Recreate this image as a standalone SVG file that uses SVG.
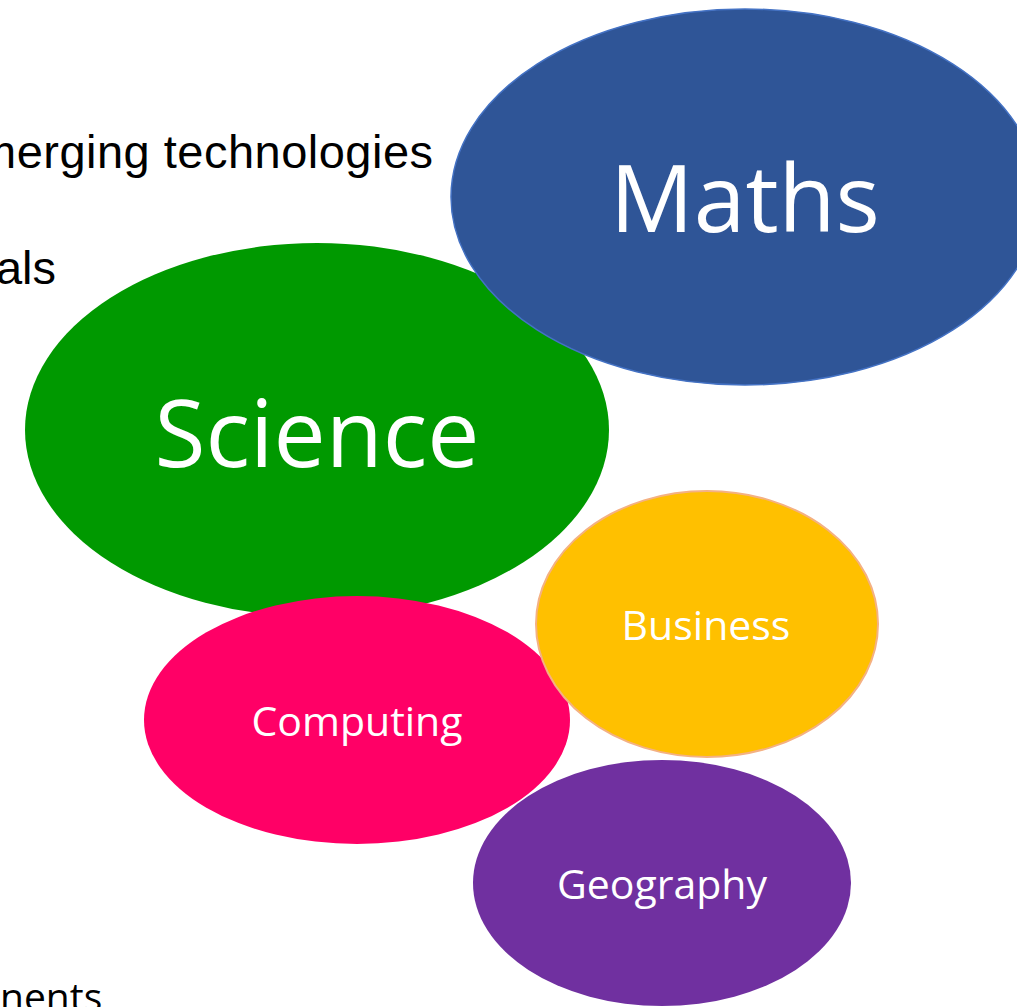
<svg xmlns="http://www.w3.org/2000/svg" width="1017" height="1007" viewBox="0 0 1017 1007">
<style>
.lbl{font-family:"Open Sans","Noto Sans",sans-serif;fill:#ffffff;text-anchor:middle}
.big{font-size:93px}
.small{font-size:41px}
.bg{font-family:"Liberation Sans",Arial,sans-serif;font-size:47px;fill:#000000}
</style>
<rect width="1017" height="1007" fill="#ffffff"/>
<g id="background-text">
<text class="bg" x="433" y="168" text-anchor="end" textLength="456" lengthAdjust="spacing">merging technologies</text>
<text class="bg" x="56" y="284" text-anchor="end">als</text>
<text x="0" y="1011" style="font-family:'Open Sans','Noto Sans',sans-serif;font-size:39px;fill:#000000">nents</text>
</g>
<g id="connectors"></g>
<g id="science">
<ellipse cx="317" cy="430" rx="292" ry="187" fill="#009900"/>
<text class="lbl big" x="317" y="467">Science</text>
</g>
<g id="maths">
<ellipse cx="745" cy="197" rx="294" ry="188" fill="#2F5597" stroke="#4472C4" stroke-width="1.5"/>
<text class="lbl big" x="745" y="232">Maths</text>
</g>
<g id="geography">
<ellipse cx="662" cy="883" rx="189" ry="123" fill="#7030A0"/>
<text class="lbl small" x="662" y="899">Geography</text>
</g>
<g id="computing">
<ellipse cx="357" cy="720" rx="213" ry="124" fill="#FF0066"/>
<text class="lbl small" x="357" y="736">Computing</text>
</g>
<g id="business">
<ellipse cx="707" cy="624" rx="171" ry="133" fill="#FFC000" stroke="#F4B183" stroke-width="2"/>
<text class="lbl small" x="706" y="640">Business</text>
</g>
</svg>
